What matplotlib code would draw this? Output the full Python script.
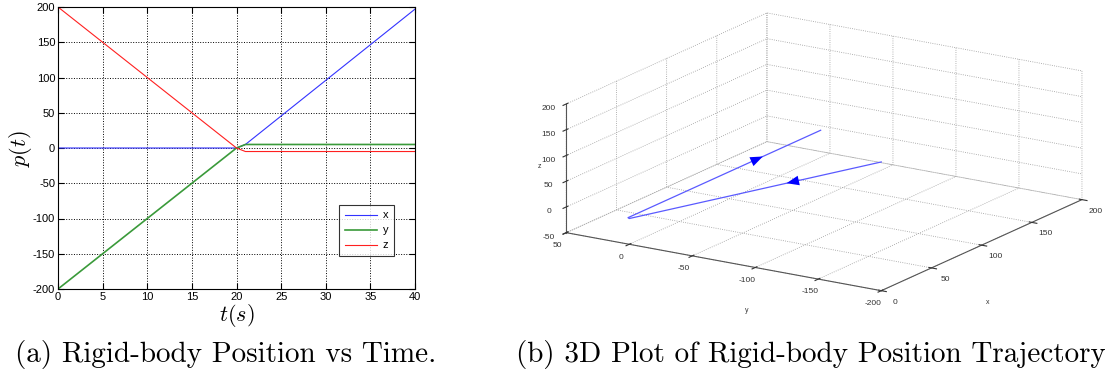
import numpy as np
import matplotlib
matplotlib.use("Agg")
import matplotlib.pyplot as plt
from mpl_toolkits.mplot3d import proj3d

# Position components (breakpoints of piecewise-linear paths)
t = [0, 20, 21, 40]
px = [0, 0, 5, 197]
py = [-200, 0, 5, 5]
pz = [200, 0, -5, -5]

t_ticks = [0, 5, 10, 15, 20, 25, 30, 35, 40]
p_ticks = [-200, -150, -100, -50, 0, 50, 100, 150, 200]
x3_ticks = [0, 50, 100, 150, 200]
y3_ticks = [-200, -150, -100, -50, 0, 50]
z3_ticks = [-50, 0, 50, 100, 150, 200]

plt.rcParams["font.family"] = "Liberation Sans"
plt.rcParams["mathtext.fontset"] = "cm"
plt.rcParams["axes.unicode_minus"] = False
plt.rcParams["grid.linestyle"] = ":"
plt.rcParams["grid.linewidth"] = 0.6

fig = plt.figure(figsize=(11.05, 3.75), dpi=100)

# ---- (a) position vs time
ax = fig.add_axes([58 / 1105, 1 - 289 / 375, 357 / 1105, 282 / 375])
ax.plot(t, px, color="#3333ff", lw=0.8, label="x")
ax.plot(t, py, color="#3a9a3a", lw=1.2, label="y")
ax.plot(t, pz, color="#ff2020", lw=0.8, label="z")
ax.set_xlim(0, 40)
ax.set_ylim(-200, 200)
ax.set_xticks(t_ticks)
ax.set_yticks(p_ticks)
ax.tick_params(direction="in", top=True, right=True, labelsize=8, length=4, pad=2)
ax.grid(True, color="black", linestyle=":", linewidth=0.7)
ax.set_xlabel(r"$t(s)$", fontsize=16, labelpad=0)
ax.set_ylabel(r"$p(t)$", fontsize=16, labelpad=-1)
leg = ax.legend(loc="lower right", bbox_to_anchor=(0.941, 0.117), borderaxespad=0,
                fontsize=8, fancybox=False, edgecolor="black", handlelength=2.9,
                handletextpad=0.5, borderpad=0.5, labelspacing=0.45)
leg.get_frame().set_linewidth(0.8)

# ---- (b) 3D trajectory
ax3 = fig.add_axes([0.462, 0.169, 0.56, 0.83], projection="3d")
ax3.set_proj_type("ortho")
ax3.plot(px, py, pz, color="#5a5aff", lw=0.9, clip_on=False)
ax3.set_xlim(0, 200)
ax3.set_ylim(-200, 50)
ax3.set_zlim(-50, 200)
ax3.set_xticks(x3_ticks)
ax3.set_yticks(y3_ticks)
ax3.set_zticks(z3_ticks)
ax3.set_box_aspect((1, 1, 0.36), zoom=1.70)
ax3.view_init(elev=16.8, azim=-147.5)
for a in (ax3.xaxis, ax3.yaxis, ax3.zaxis):
    a.set_pane_color((1, 1, 1, 0))
    a.pane.set_edgecolor((1, 1, 1, 0))
    a._axinfo["grid"]["color"] = "#999999"
    a._axinfo["grid"]["linestyle"] = ":"
    a._axinfo["grid"]["linewidth"] = 0.6
    a.line.set_color("#555555")
    a.line.set_linewidth(0.8)
ax3.tick_params(labelsize=6, colors="#333333")
ax3.tick_params(axis="x", pad=-3)
ax3.tick_params(axis="y", pad=-3)
ax3.tick_params(axis="z", pad=-4)

# axis names placed below the axes, as in the reference
fig.text(988 / 1105, 1 - 302 / 375, "x", fontsize=5, color="#333333", ha="center", va="center")
fig.text(747 / 1105, 1 - 310 / 375, "y", fontsize=5, color="#333333", ha="center", va="center")
fig.text(539 / 1105, 1 - 167 / 375, "z", fontsize=5, color="#333333", ha="center", va="center")

# direction arrows along each leg of the trajectory (tip at given fraction of the leg)
fig.canvas.draw()
M = ax3.get_proj()
for i0, i1, frac in [(0, 1, 0.376), (2, 3, 0.70)]:
    a0 = np.array([px[i0], py[i0], pz[i0]], float)
    a1 = np.array([px[i1], py[i1], pz[i1]], float)
    tip = a0 + frac * (a1 - a0)
    tail = a0 + (frac - 0.12) * (a1 - a0)
    xt, yt, _ = proj3d.proj_transform(*tip, M)
    xs, ys, _ = proj3d.proj_transform(*tail, M)
    ax3.annotate("", xy=(xt, yt), xytext=(xs, ys), xycoords="data", annotation_clip=False,
                 arrowprops=dict(arrowstyle="-|>,head_length=0.9,head_width=0.35",
                                 color="#0000ff", lw=0.0, shrinkA=0, shrinkB=0,
                                 clip_on=False))

# ---- captions
fig.text(226 / 1105, 1 - 362 / 375, "(a) Rigid-body Position vs Time.",
         family="cmr10", fontsize=21, ha="center", va="baseline")
fig.text(811 / 1105, 1 - 362 / 375, "(b) 3D Plot of Rigid-body Position Trajectory",
         family="cmr10", fontsize=21, ha="center", va="baseline")

fig.savefig("out.png", dpi=100)
